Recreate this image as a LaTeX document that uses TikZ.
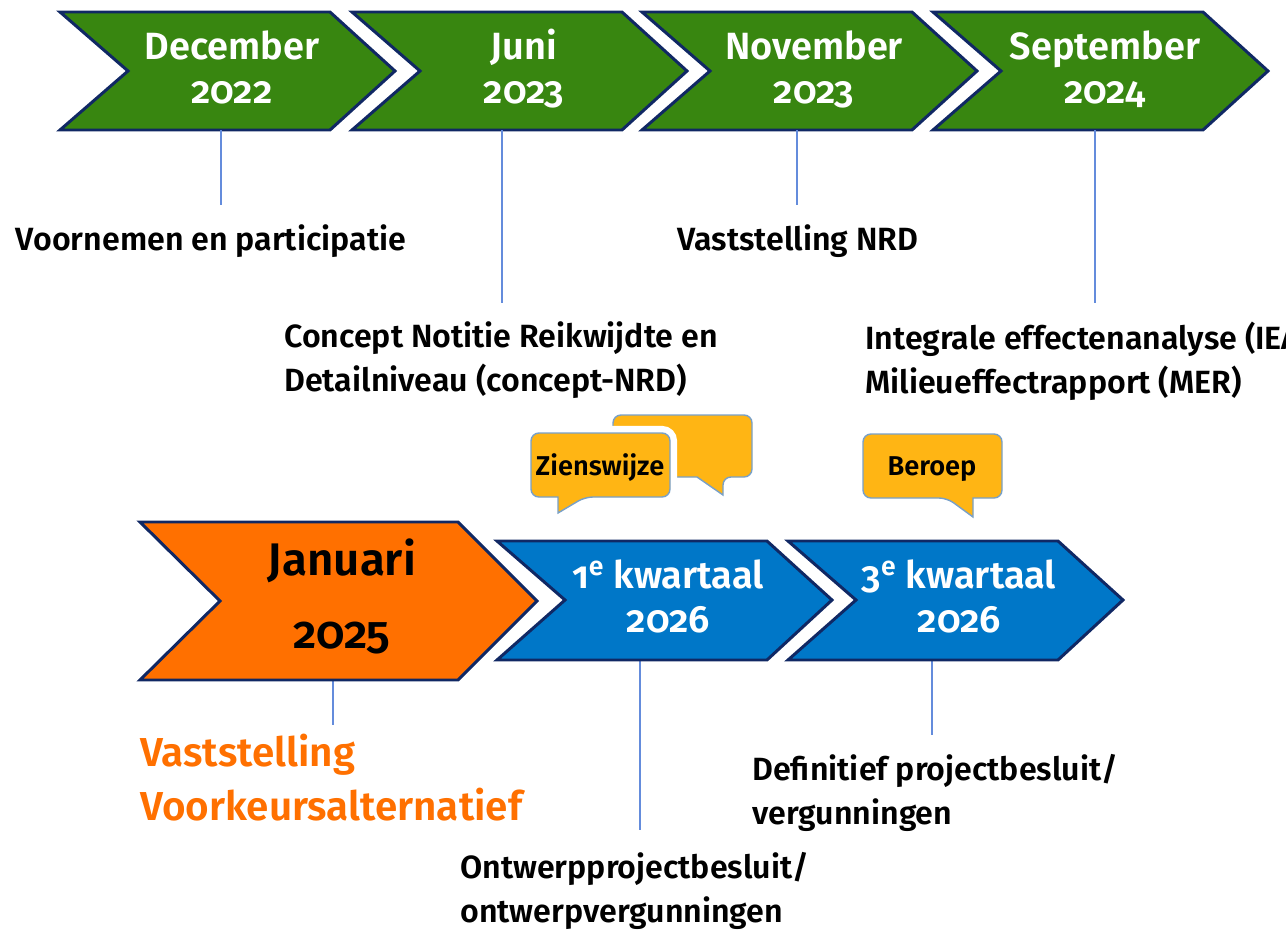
\documentclass[tikz,border=0pt]{standalone}
\usepackage{fontspec}
\setmainfont{Fira Sans}[Numbers=OldStyle,BoldFont={Fira Sans SemiBold}]
\usetikzlibrary{positioning}
\definecolor{rgreen}{RGB}{56,134,16}
\definecolor{rnavy}{RGB}{16,40,100}
\definecolor{rorange}{RGB}{255,112,0}
\definecolor{rblue}{RGB}{0,119,200}
\definecolor{ryellow}{RGB}{255,181,20}
\definecolor{rbubble}{RGB}{120,160,200}
\definecolor{rtick}{RGB}{100,140,220}
\tikzset{chev/.style = {draw=rnavy, line width=1.7pt, line join=miter}}
\tikzset{tick/.style = {rtick, line width=0.8pt}}
\tikzset{note/.style = {font=\bfseries\fontsize{18.3}{24.5}\selectfont, align=left, inner sep=0}}
\tikzset{month/.style = {text=white, font=\bfseries\fontsize{21.6}{24.5}\selectfont, align=center, inner sep=0}}
\tikzset{bubble/.style = {draw=rbubble, fill=ryellow, line width=0.8pt}}
\tikzset{bubbletext/.style = {font=\bfseries\fontsize{15.5}{18}\selectfont, inner sep=0}}

\begin{document}
\begin{tikzpicture}[x=0.02cm, y=-0.02cm]
  \useasboundingbox (0,0) rectangle (1286,930);
  \clip (0,0) rectangle (1286,930);

  % top row
  \foreach \x/\m/\j [count=\i] in {60/December/2022, 352/Juni/2023, 642/November/2023, 933/September/2024} {
    \begin{scope}[shift={(\x,0)}]
      \draw [chev, fill=rgreen] (0,12) -- (270,12) -- (335,71) -- (270,130) -- (0,130) -- (68,71) -- cycle;
      \node [month, anchor=base] (m\i) at (172,103) {\m\\\j};
    \end{scope}
  }

  \foreach \x/\a/\b [count=\i] in {221/130/205, 502/130/303, 797/130/205, 1095/130/303,
                                   333/680/725, 640/660/830, 932/660/735} {
    \coordinate (t\i) at (\x,\a);
    \coordinate (u\i) at (\x,\b);
    \draw [tick] (t\i) -- (u\i);
  }

  \node [note, anchor=base] (n1) at (211,250) {Voornemen en participatie};
  \node [note, anchor=base west] (n2) at (284,391) {Concept Notitie Reikwijdte en\\Detailniveau (concept-NRD)};
  \node [note, anchor=base] (n3) at (798,250) {Vaststelling NRD};
  \node [note, anchor=base west] (n4) at (865,393) {Integrale effectenanalyse (IEA)/\\Milieueffectrapport (MER)};

  % bubbles
  \draw [bubble] (697,477) [rounded corners=4.5pt] -- (613,477) -- (613,415) -- (752,415) -- (752,477)
    -- (723,477) [sharp corners] -- (723,495) -- cycle;
  \draw [bubble, preaction={draw=white, line width=8pt}] (558,497) [rounded corners=4.5pt] -- (531,497)
    -- (531,433) -- (670,433) -- (670,497) -- (585,497) [sharp corners] -- (558,513) -- cycle;
  \node [bubbletext, anchor=base] (zw) at (600,475) {Zienswijze};
  \draw [bubble] (973,498) [rounded corners=4.5pt] -- (1002,498) -- (1002,434) -- (863,434) -- (863,498)
    -- (947,498) [sharp corners] -- (973,517) -- cycle;
  \node [bubbletext, anchor=base] (br) at (932,475) {Beroep};

  % bottom row
  \draw [chev, fill=rorange] (140,522) -- (458,522) -- (537,601) -- (458,680) -- (140,680) -- (220,601) -- cycle;
  \node [anchor=base, align=center, inner sep=0, font=\bfseries\fontsize{26}{41.5}\selectfont] (jan) at (342,648) {Januari\\2025};
  \foreach \x/\t [count=\k] in {497/1, 788/3} {
    \begin{scope}[shift={(\x,0)}]
      \draw [chev, fill=rblue] (0,541) -- (270,541) -- (335,600) -- (270,660) -- (0,660) -- (68,600) -- cycle;
      \node [month, anchor=base] (q\k) at (171,632) {\t\textsuperscript{e} kwartaal\\2026};
    \end{scope}
  }

  \node [note, anchor=base west, text=rorange, font=\bfseries\fontsize{23}{30.7}\selectfont] (n5) at (140,820) {Vaststelling\\Voorkeursalternatief};
  \node [note, anchor=base west] (n6) at (752,824) {Definitief projectbesluit/\\vergunningen};
  \node [note, anchor=base west] (n7) at (460,922) {Ontwerpprojectbesluit/\\ontwerpvergunningen};
\end{tikzpicture}
\end{document}
